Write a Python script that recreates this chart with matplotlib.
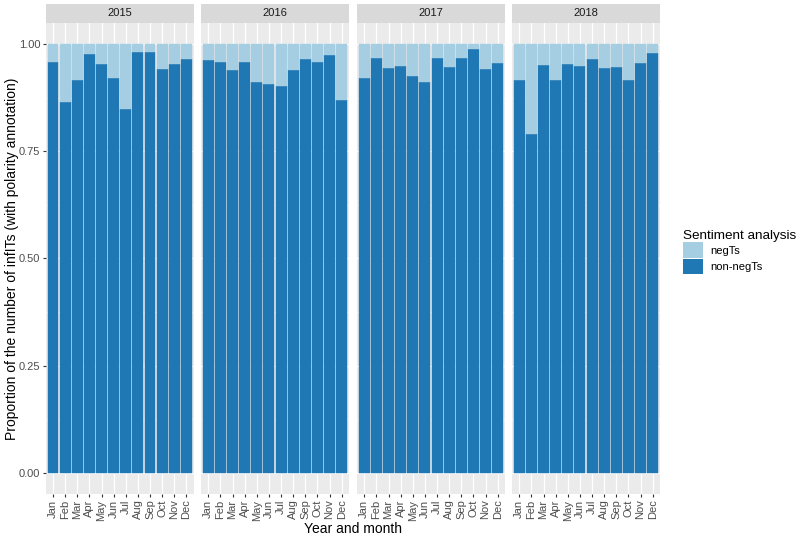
import matplotlib
matplotlib.use("Agg")
import matplotlib.pyplot as plt
from matplotlib.patches import Patch, Rectangle
import numpy as np

plt.rcParams['font.family'] = ['Liberation Sans', 'DejaVu Sans']

years = ["2015", "2016", "2017", "2018"]
months = ["Jan", "Feb", "Mar", "Apr", "May", "Jun", "Jul", "Aug", "Sep", "Oct", "Nov", "Dec"]

non_neg_2015 = [0.958, 0.866, 0.917, 0.977, 0.954, 0.921, 0.850, 0.981, 0.981, 0.942, 0.954, 0.966]
non_neg_2016 = [0.963, 0.959, 0.941, 0.959, 0.911, 0.908, 0.903, 0.939, 0.965, 0.958, 0.974, 0.870]
non_neg_2017 = [0.922, 0.967, 0.945, 0.949, 0.927, 0.912, 0.967, 0.946, 0.969, 0.988, 0.942, 0.956]
non_neg_2018 = [0.917, 0.790, 0.952, 0.916, 0.953, 0.949, 0.965, 0.945, 0.946, 0.917, 0.957, 0.980]
non_neg = [non_neg_2015, non_neg_2016, non_neg_2017, non_neg_2018]

y_ticks = [0.0, 0.25, 0.5, 0.75, 1.0]
y_tick_labels = ["0.00", "0.25", "0.50", "0.75", "1.00"]

COL_NEG = "#A6CEE3"
COL_NONNEG = "#1F78B4"
PANEL_BG = "#EBEBEB"
STRIP_BG = "#D9D9D9"
TICK_COL = "#4D4D4D"

W, H = 800, 537
fig = plt.figure(figsize=(W / 100, H / 100), dpi=100)

panel_left = [45.7, 201.0, 357.0, 512.0]
panel_w = 148.0
panel_top = 22.9
panel_bot = 494.0
strip_top = 4.0

for i, yr in enumerate(years):
    l = panel_left[i] / W
    b = 1 - panel_bot / H
    w = panel_w / W
    h = (panel_bot - panel_top) / H
    ax = fig.add_axes([l, b, w, h])
    ax.set_facecolor(PANEL_BG)
    x = np.arange(len(months))
    vals = np.array(non_neg[i])
    ax.bar(x, vals, width=0.9, color=COL_NONNEG, edgecolor=COL_NONNEG, linewidth=0.3, zorder=3)
    ax.bar(x, 1 - vals, bottom=vals, width=0.9, color=COL_NEG, edgecolor=COL_NEG, linewidth=0.3, zorder=3)
    ax.set_xlim(-0.6, len(months) - 0.4)
    ax.set_ylim(-0.05, 1.05)
    ax.set_xticks(x)
    ax.set_xticklabels(months, rotation=90, fontsize=8, color=TICK_COL)
    ax.set_yticks(y_ticks)
    ax.set_yticks([0.125, 0.375, 0.625, 0.875], minor=True)
    if i == 0:
        ax.set_yticklabels(y_tick_labels, fontsize=8, color=TICK_COL)
        ax.tick_params(axis='y', length=2.5, width=0.8, color="#333333", pad=1.5)
    else:
        ax.set_yticklabels([])
        ax.tick_params(axis='y', length=0)
    ax.tick_params(axis='y', which='minor', length=0)
    ax.tick_params(axis='x', length=2.5, width=0.8, color="#333333", pad=1.5)
    ax.grid(True, which='major', color='white', linewidth=0.9, zorder=0)
    ax.grid(True, which='minor', axis='y', color='white', linewidth=0.45, zorder=0)
    ax.set_axisbelow(True)
    for s in ax.spines.values():
        s.set_visible(False)
    # strip
    sx = panel_left[i] / W
    sy = 1 - panel_top / H
    sh = (panel_top - strip_top) / H
    fig.add_artist(Rectangle((sx, sy), w, sh, transform=fig.transFigure,
                             facecolor=STRIP_BG, edgecolor='none'))
    fig.text(sx + w / 2, sy + sh / 2, yr, ha='center', va='center',
             fontsize=8, color="#1A1A1A")

fig.text(12 / W, 1 - ((panel_top + panel_bot) / 2) / H,
         "Proportion of the number of infITs (with polarity annotation)",
         rotation=90, ha='center', va='center', fontsize=10, color='black')
fig.text(((panel_left[0] + panel_left[3] + panel_w) / 2) / W, 1 - 529 / H,
         "Year and month", ha='center', va='center', fontsize=10, color='black')

handles = [Patch(facecolor=COL_NEG, edgecolor='none'), Patch(facecolor=COL_NONNEG, edgecolor='none')]
leg = fig.legend(handles, ["negTs", "non-negTs"], loc='upper left',
                 bbox_to_anchor=(675 / W, 1 - 222 / H), frameon=False,
                 title="Sentiment analysis", title_fontsize=9.7, fontsize=8,
                 handlelength=1.8, handleheight=1.8, labelspacing=0.05,
                 handletextpad=0.7, alignment='left', borderpad=0.2)

fig.savefig("out.png", dpi=100)
